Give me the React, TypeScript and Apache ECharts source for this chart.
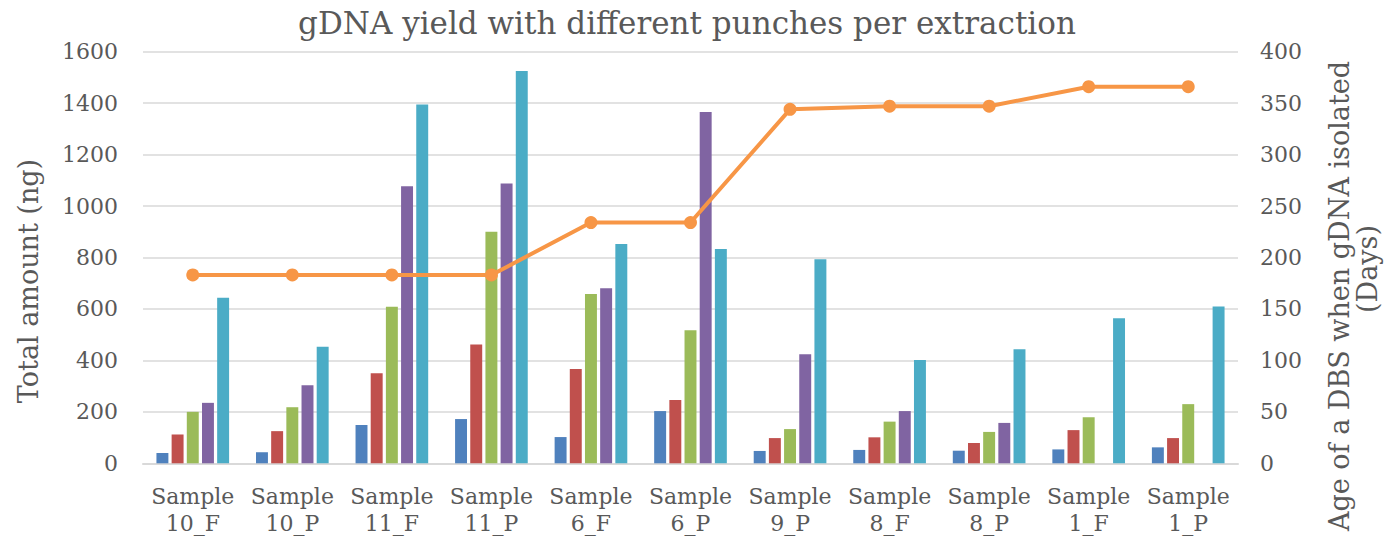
import React, { useEffect, useRef } from "react";
import * as echarts from "echarts";

const categories = [
  "Sample\n10_F", "Sample\n10_P", "Sample\n11_F", "Sample\n11_P", "Sample\n6_F",
  "Sample\n6_P", "Sample\n9_P", "Sample\n8_F", "Sample\n8_P", "Sample\n1_F", "Sample\n1_P",
];

const punch1 = [40, 43, 149, 172, 102, 203, 48, 52, 49, 54, 62];
const punch2 = [112, 125, 350, 462, 367, 246, 98, 101, 79, 129, 98];
const punch3 = [200, 218, 609, 900, 658, 517, 133, 162, 122, 179, 230];
const punch4 = [235, 303, 1077, 1088, 680, 1366, 424, 203, 157, null, null];
const punch5 = [644, 453, 1395, 1525, 852, 833, 793, 402, 443, 564, 610];
const ageDays = [183, 183, 183, 183, 234, 234, 344, 347, 347, 366, 366];

const leftTicks = { min: 0, max: 1600, interval: 200 };
const rightTicks = { min: 0, max: 400, interval: 50 };

const FONT = "'DejaVu Serif', serif";
const TEXT = "#595959";

export default function App() {
  const ref = useRef<HTMLDivElement>(null);

  useEffect(() => {
    if (!ref.current) return;
    const chart = echarts.init(ref.current, undefined, { renderer: "svg" });
    const barSeries = [
      { name: "1 punch", data: punch1, color: "#4F81BD" },
      { name: "2 punches", data: punch2, color: "#C0504D" },
      { name: "3 punches", data: punch3, color: "#9BBB59" },
      { name: "4 punches", data: punch4, color: "#8064A2" },
      { name: "5 punches", data: punch5, color: "#4BACC6" },
    ].map((s) => ({
      type: "bar",
      name: s.name,
      data: s.data,
      yAxisIndex: 0,
      barGap: "27%",
      barCategoryGap: "27%",
      itemStyle: { color: s.color },
    }));

    chart.setOption({
      animation: false,
      backgroundColor: "#ffffff",
      textStyle: { fontFamily: FONT, color: TEXT },
      grid: { left: 143, right: 156, top: 51.7, bottom: 78.7, containLabel: false },
      xAxis: {
        type: "category",
        data: categories,
        axisLine: { lineStyle: { color: "#d9d9d9", width: 2 } },
        axisTick: { show: false },
        axisLabel: {
          interval: 0,
          fontFamily: FONT,
          fontSize: 22,
          lineHeight: 27,
          color: TEXT,
          margin: 20,
        },
      },
      yAxis: [
        {
          type: "value",
          ...leftTicks,
          axisLine: { show: false },
          axisTick: { show: false },
          splitLine: { lineStyle: { color: "#d9d9d9", width: 1.5 } },
          axisLabel: {
            fontFamily: FONT,
            fontSize: 22,
            color: TEXT,
            margin: 25,
            formatter: (v: number) => String(v),
          },
        },
        {
          type: "value",
          ...rightTicks,
          position: "right",
          axisLine: { show: false },
          axisTick: { show: false },
          splitLine: { show: false },
          axisLabel: {
            fontFamily: FONT,
            fontSize: 22,
            color: TEXT,
            margin: 22,
            formatter: (v: number) => String(v),
          },
        },
      ],
      graphic: [
        {
          type: "text",
          x: 687,
          y: 23,
          style: {
            text: "gDNA yield with different punches per extraction",
            font: `31px ${FONT}`,
            fill: TEXT,
            textAlign: "center",
            textVerticalAlign: "middle",
          },
        },
        {
          type: "text",
          x: 28,
          y: 281,
          rotation: Math.PI / 2,
          style: {
            text: "Total amount (ng)",
            font: `27px ${FONT}`,
            fill: TEXT,
            textAlign: "center",
            textVerticalAlign: "middle",
          },
        },
        {
          type: "text",
          x: 1339,
          y: 296,
          rotation: Math.PI / 2,
          style: {
            text: "Age of a DBS when gDNA isolated",
            font: `27px ${FONT}`,
            fill: TEXT,
            textAlign: "center",
            textVerticalAlign: "middle",
          },
        },
        {
          type: "text",
          x: 1367,
          y: 269,
          rotation: Math.PI / 2,
          style: {
            text: "(Days)",
            font: `27px ${FONT}`,
            fill: TEXT,
            textAlign: "center",
            textVerticalAlign: "middle",
          },
        },
      ],
      series: [
        ...barSeries,
        {
          type: "line",
          name: "Age of DBS (days)",
          data: ageDays,
          yAxisIndex: 1,
          z: 5,
          symbol: "circle",
          symbolSize: 13,
          lineStyle: { color: "#F79646", width: 4 },
          itemStyle: { color: "#F79646" },
        },
      ],
    });
    return () => chart.dispose();
  }, []);

  return (
    <div
      ref={ref}
      style={{ position: "fixed", left: 0, top: 0, width: 1394, height: 542, background: "#fff" }}
    />
  );
}
